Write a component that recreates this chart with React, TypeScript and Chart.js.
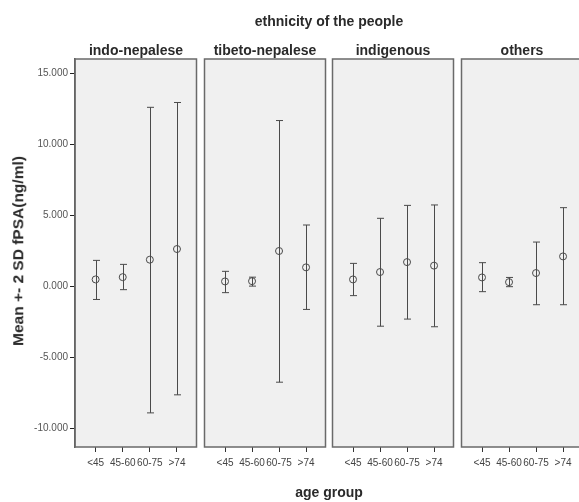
import React, { useEffect, useRef } from "react";
import { Chart, registerables } from "chart.js";

Chart.register(...registerables);

// ---- data ----
const ageGroups = ["<45", "45-60", "60-75", ">74"];
const ethnicities = ["indo-nepalese", "tibeto-nepalese", "indigenous", "others"];
const yTickValues = [-10, -5, 0, 5, 10, 15];

const indoMean = [0.49, 0.65, 1.88, 2.63];
const indoLow = [-0.92, -0.23, -8.9, -7.63];
const indoHigh = [1.83, 1.55, 12.6, 12.94];

const tibetoMean = [0.35, 0.37, 2.49, 1.34];
const tibetoLow = [-0.44, 0.02, -6.74, -1.62];
const tibetoHigh = [1.06, 0.65, 11.67, 4.32];

const indigenousMean = [0.49, 1.01, 1.71, 1.46];
const indigenousLow = [-0.65, -2.8, -2.3, -2.84];
const indigenousHigh = [1.62, 4.79, 5.7, 5.73];

const othersMean = [0.63, 0.3, 0.94, 2.11];
const othersLow = [-0.37, -0.02, -1.29, -1.29];
const othersHigh = [1.67, 0.63, 3.12, 5.54];

const means = [indoMean, tibetoMean, indigenousMean, othersMean];
const lows = [indoLow, tibetoLow, indigenousLow, othersLow];
const highs = [indoHigh, tibetoHigh, indigenousHigh, othersHigh];

// ---- layout / style ----
const FONT = "'Liberation Sans', Arial, sans-serif";
const PANEL_LEFT = [75, 204, 332, 461];
const PANEL_W = 122;
const TOP = 59;
const BOTTOM = 447;
const H = 502;

function Panel({ index }: { index: number }) {
  const ref = useRef<HTMLCanvasElement>(null);
  const first = index === 0;
  const canvasLeft = first ? 0 : PANEL_LEFT[index] - 4;
  const padL = first ? 0 : 4;
  const canvasW = first ? PANEL_LEFT[0] + PANEL_W + 4 : PANEL_W + 8;

  useEffect(() => {
    const panelPlugin = {
      id: "panelPlugin",
      beforeDraw(chart: any) {
        const { ctx, chartArea: a } = chart;
        ctx.save();
        ctx.fillStyle = "#f0f0f0";
        ctx.fillRect(a.left, a.top, a.right - a.left, a.bottom - a.top);
        ctx.restore();
      },
      beforeDatasetsDraw(chart: any) {
        const { ctx } = chart;
        const xs = chart.scales.x;
        const ys = chart.scales.y;
        ctx.save();
        ctx.strokeStyle = "#4a4a4a";
        ctx.lineWidth = 1;
        for (let i = 0; i < ageGroups.length; i++) {
          const x = Math.round(xs.getPixelForValue(i)) + 0.5;
          const yl = ys.getPixelForValue(lows[index][i]);
          const yh = ys.getPixelForValue(highs[index][i]);
          ctx.beginPath();
          ctx.moveTo(x, yl);
          ctx.lineTo(x, yh);
          ctx.moveTo(x - 3.5, yl);
          ctx.lineTo(x + 3.5, yl);
          ctx.moveTo(x - 3.5, yh);
          ctx.lineTo(x + 3.5, yh);
          ctx.stroke();
        }
        ctx.restore();
      },
      afterDraw(chart: any) {
        const { ctx, chartArea: a } = chart;
        ctx.save();
        ctx.strokeStyle = "#6a6a6a";
        ctx.lineWidth = 1.5;
        ctx.strokeRect(a.left, a.top, a.right - a.left, a.bottom - a.top);
        ctx.restore();
      },
    };

    const chart = new Chart(ref.current as HTMLCanvasElement, {
      type: "scatter",
      data: {
        datasets: [
          {
            data: ageGroups.map((_, i) => ({ x: i, y: means[index][i] })),
            pointRadius: 3.5,
            pointHoverRadius: 3.5,
            pointBorderColor: "#4a4a4a",
            pointBackgroundColor: "rgba(0,0,0,0)",
            pointBorderWidth: 1,
          },
        ],
      },
      options: {
        animation: false,
        responsive: false,
        maintainAspectRatio: false,
        events: [],
        layout: { padding: { top: TOP, left: padL, right: 4, bottom: 0 } },
        plugins: {
          legend: { display: false },
          tooltip: { enabled: false },
          title: { display: false },
        },
        scales: {
          x: {
            type: "linear",
            min: -0.76,
            max: 3.72,
            afterBuildTicks: (s: any) => {
              s.ticks = ageGroups.map((_, i) => ({ value: i }));
            },
            afterFit: (s: any) => {
              s.height = H - BOTTOM;
            },
            ticks: {
              callback: (v: any) => ageGroups[v],
              font: { family: FONT, size: 10 },
              color: "#444",
              padding: 5,
              maxRotation: 0,
              minRotation: 0,
              autoSkip: false,
            },
            grid: {
              drawOnChartArea: false,
              drawTicks: true,
              tickLength: 5,
              color: "#333",
              lineWidth: 1,
            },
            border: { display: false },
          },
          y: {
            type: "linear",
            min: -11.3,
            max: 16.0,
            display: first,
            afterBuildTicks: (s: any) => {
              s.ticks = yTickValues.map((v) => ({ value: v }));
            },
            afterFit: (s: any) => {
              s.width = first ? PANEL_LEFT[0] : 0;
            },
            ticks: {
              callback: (v: any) => Number(v).toFixed(3),
              font: { family: FONT, size: 10 },
              color: "#555",
              padding: 2,
            },
            grid: {
              drawOnChartArea: false,
              drawTicks: true,
              tickLength: 5,
              color: "#222",
              lineWidth: 1,
            },
            border: { display: true, color: "#555", width: 1.5 },
          },
        },
      } as any,
      plugins: [panelPlugin],
    });
    return () => chart.destroy();
  }, []);

  return (
    <canvas
      ref={ref}
      width={canvasW}
      height={H}
      style={{ position: "absolute", left: canvasLeft, top: 0, width: canvasW, height: H }}
    />
  );
}

const textBase: React.CSSProperties = {
  position: "absolute",
  fontFamily: FONT,
  color: "#2a2a2a",
  whiteSpace: "nowrap",
  transform: "translate(-50%, -50%)",
  lineHeight: "1",
};

export default function App() {
  return (
    <div
      style={{
        position: "absolute",
        left: 0,
        top: 0,
        width: 579,
        height: 502,
        overflow: "hidden",
        background: "#fff",
      }}
    >
      {ethnicities.map((_, i) => (
        <Panel key={i} index={i} />
      ))}
      <div style={{ ...textBase, left: 329, top: 21, fontSize: 14, fontWeight: "bold" }}>
        ethnicity of the people
      </div>
      {ethnicities.map((e, i) => (
        <div
          key={e}
          style={{
            ...textBase,
            left: PANEL_LEFT[i] + PANEL_W / 2,
            top: 50,
            fontSize: 14,
            fontWeight: "bold",
          }}
        >
          {e}
        </div>
      ))}
      <div
        style={{
          ...textBase,
          left: 18,
          top: 251,
          fontSize: 15.5,
          fontWeight: "bold",
          transform: "translate(-50%, -50%) rotate(-90deg)",
        }}
      >
        Mean +- 2 SD fPSA(ng/ml)
      </div>
      <div style={{ ...textBase, left: 329, top: 492, fontSize: 14, fontWeight: "bold" }}>
        age group
      </div>
    </div>
  );
}
